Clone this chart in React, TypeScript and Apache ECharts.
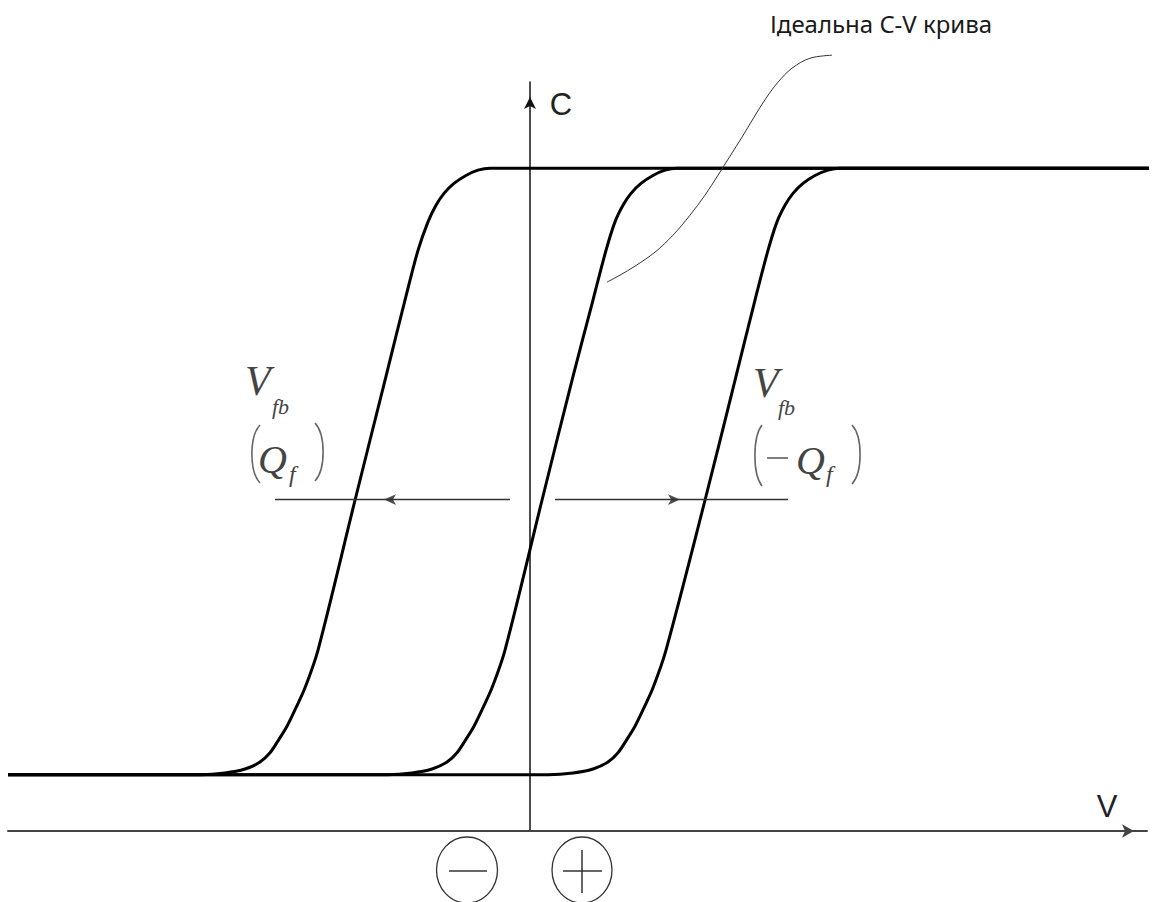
import { useEffect, useRef } from "react";
import * as echarts from "echarts";

// Axis extents: V in volts, C normalised to Cox
const V_MIN = -5.22;
const V_MAX = 6.17;
const C_MIN_AXIS = 0;
const C_MAX_AXIS = 1.13;

// C-V curve shifted left by positive fixed charge Qf
const curvePositiveQf: [number, number][] = [
  [-5.22, 0.085], [-3.3, 0.085], [-3.05, 0.0875], [-2.85, 0.0935], [-2.7, 0.104],
  [-2.6, 0.118], [-2.52, 0.136], [-2.43, 0.158], [-2.34, 0.186], [-2.25, 0.216],
  [-2.12, 0.273], [-1.75, 0.499], [-1.45, 0.68], [-1.25, 0.801], [-1.12, 0.876],
  [-1.02, 0.919], [-0.94, 0.944], [-0.86, 0.962], [-0.76, 0.977], [-0.64, 0.989],
  [-0.52, 0.997], [-0.4, 1.0], [6.27, 1.0],
];

// Ideal C-V curve
const curveIdeal: [number, number][] = [
  [-5.22, 0.085], [-1.43, 0.085], [-1.18, 0.0875], [-0.98, 0.0935], [-0.83, 0.104],
  [-0.73, 0.118], [-0.65, 0.136], [-0.56, 0.158], [-0.47, 0.186], [-0.38, 0.216],
  [-0.25, 0.273], [0.12, 0.499], [0.42, 0.68], [0.63, 0.801], [0.76, 0.876],
  [0.85, 0.919], [0.93, 0.944], [1.01, 0.962], [1.11, 0.977], [1.23, 0.989],
  [1.35, 0.997], [1.47, 1.0], [6.27, 1.0],
];

// C-V curve shifted right by negative fixed charge -Qf
const curveNegativeQf: [number, number][] = [
  [-5.22, 0.085], [0.18, 0.085], [0.43, 0.0875], [0.63, 0.0935], [0.78, 0.104],
  [0.88, 0.118], [0.96, 0.136], [1.05, 0.158], [1.14, 0.186], [1.23, 0.216],
  [1.36, 0.273], [1.75, 0.499], [2.05, 0.68], [2.25, 0.801], [2.38, 0.876],
  [2.47, 0.919], [2.55, 0.944], [2.63, 0.962], [2.73, 0.977], [2.85, 0.989],
  [2.98, 0.997], [3.1, 1.0], [6.27, 1.0],
];

// Leader from the caption down to the ideal curve
const idealLeader: [number, number][] = [
  [3.02, 1.1704], [2.8, 1.1659], [2.62, 1.1508], [2.48, 1.1297], [2.36, 1.1056],
  [2.24, 1.0769], [2.12, 1.0468], [2.0, 1.0181], [1.88, 0.9894], [1.75, 0.9593],
  [1.6, 0.9291], [1.43, 0.8989], [1.25, 0.8733], [1.05, 0.8522], [0.9, 0.8386],
  [0.77, 0.8281],
];

// Flat-band shift arrows (shaft ends and head positions)
const shiftLeftShaft: [number, number][] = [[-0.2, 0.5], [-2.55, 0.5]];
const shiftRightShaft: [number, number][] = [[0.25, 0.5], [2.58, 0.5]];
const shiftLeftHead: [number, number][] = [[-1.46, 0.5]];
const shiftRightHead: [number, number][] = [[1.5, 0.5]];

const CAPTION = "Ідеальна C-V крива";
const AXIS_C = "C";
const AXIS_V = "V";

const SERIF = '"Liberation Serif", "DejaVu Serif", serif';
const SANS = '"Liberation Sans", Arial, sans-serif';
const INK = "#444";

function curveSeries(data: [number, number][], width: number, color: string, smooth: number | boolean = 0.3) {
  return {
    type: "line",
    data,
    showSymbol: false,
    symbol: "none",
    smooth,
    clip: false,
    silent: true,
    lineStyle: { width, color },
  };
}

function paren(x0: number, xm: number, y0: number, y1: number) {
  const ym = (y0 + y1) / 2;
  return {
    type: "bezierCurve",
    shape: {
      x1: x0, y1: y0,
      cpx1: xm + (xm - x0) * 0.35, cpy1: ym - (y1 - y0) * 0.3,
      cpx2: xm + (xm - x0) * 0.35, cpy2: ym + (y1 - y0) * 0.3,
      x2: x0, y2: y1,
    },
    style: { stroke: "#666", lineWidth: 1.6, fill: "none" },
  };
}

function italic(text: string, x: number, y: number, size: number) {
  return {
    type: "text",
    x,
    y,
    style: { text, font: `italic ${size}px ${SERIF}`, fill: INK, align: "left", verticalAlign: "middle" },
  };
}

export default function App() {
  const ref = useRef<HTMLDivElement>(null);

  useEffect(() => {
    if (!ref.current) return;
    const chart = echarts.init(ref.current, undefined, { renderer: "svg" });
    chart.setOption({
      animation: false,
      backgroundColor: "#fff",
      grid: { left: 8, right: 10, top: 82, bottom: 71, containLabel: false },
      xAxis: {
        type: "value",
        min: V_MIN,
        max: V_MAX,
        axisLine: {
          show: true,
          onZero: true,
          symbol: ["none", "arrow"],
          symbolSize: [10, 12],
          symbolOffset: [0, -13],
          lineStyle: { color: "#444", width: 2 },
        },
        axisTick: { show: false },
        axisLabel: { show: false },
        splitLine: { show: false },
      },
      yAxis: {
        type: "value",
        min: C_MIN_AXIS,
        max: C_MAX_AXIS,
        axisLine: {
          show: true,
          onZero: true,
          symbol: ["none", "arrow"],
          symbolSize: [9, 12],
          symbolOffset: [0, -15],
          lineStyle: { color: "#111", width: 1.5 },
        },
        axisTick: { show: false },
        axisLabel: { show: false },
        splitLine: { show: false },
      },
      series: [
        curveSeries(curvePositiveQf, 3, "#000"),
        curveSeries(curveIdeal, 3, "#000"),
        curveSeries(curveNegativeQf, 3, "#000"),
        curveSeries(idealLeader, 1, "#333", 0.35),
        curveSeries(shiftLeftShaft, 1.5, "#333", false),
        curveSeries(shiftRightShaft, 1.5, "#333", false),
        {
          type: "scatter",
          data: shiftLeftHead,
          symbol: "arrow",
          symbolSize: [8, 12],
          symbolRotate: 90,
          itemStyle: { color: "#222" },
          silent: true,
        },
        {
          type: "scatter",
          data: shiftRightHead,
          symbol: "arrow",
          symbolSize: [8, 12],
          symbolRotate: -90,
          itemStyle: { color: "#222" },
          silent: true,
        },
      ],
      graphic: [
        {
          type: "text",
          x: 770,
          y: 23,
          style: { text: CAPTION, font: `24px "Noto Sans", sans-serif`, fill: "#1a1a1a", align: "left", verticalAlign: "middle" },
        },
        {
          type: "text",
          x: 561,
          y: 104,
          style: { text: AXIS_C, font: `31px ${SANS}`, fill: "#222", align: "center", verticalAlign: "middle" },
        },
        {
          type: "text",
          x: 1107,
          y: 806,
          style: { text: AXIS_V, font: `31px ${SANS}`, fill: "#222", align: "center", verticalAlign: "middle" },
        },
        // left label: V_fb (Q_f)
        italic("V", 245, 381, 42),
        italic("fb", 272, 406, 22),
        paren(260, 252, 425, 483),
        italic("Q", 258, 459, 40),
        italic("f", 289, 474, 24),
        paren(315, 323, 423, 481),
        // right label: V_fb (−Q_f)
        italic("V", 753, 383, 42),
        italic("fb", 778, 407, 22),
        paren(762, 755, 425, 486),
        { type: "line", shape: { x1: 767, y1: 458, x2: 788, y2: 458 }, style: { stroke: "#555", lineWidth: 1.5 } },
        italic("Q", 796, 460, 40),
        italic("f", 826, 474, 24),
        paren(852, 860, 425, 484),
        // sign markers under the V axis
        { type: "ellipse", shape: { cx: 467, cy: 870, rx: 30.5, ry: 33 }, style: { fill: "none", stroke: "#333", lineWidth: 1.3 } },
        { type: "line", shape: { x1: 449, y1: 871, x2: 487, y2: 871 }, style: { stroke: "#333", lineWidth: 1.5 } },
        { type: "ellipse", shape: { cx: 582, cy: 870, rx: 30, ry: 33 }, style: { fill: "none", stroke: "#333", lineWidth: 1.3 } },
        { type: "line", shape: { x1: 563, y1: 871, x2: 602, y2: 871 }, style: { stroke: "#333", lineWidth: 1.5 } },
        { type: "line", shape: { x1: 582, y1: 850, x2: 582, y2: 893 }, style: { stroke: "#333", lineWidth: 1.5 } },
      ],
    });
    return () => chart.dispose();
  }, []);

  return (
    <div
      ref={ref}
      style={{ position: "fixed", left: 0, top: 0, width: 1157, height: 902, background: "#fff" }}
    />
  );
}
